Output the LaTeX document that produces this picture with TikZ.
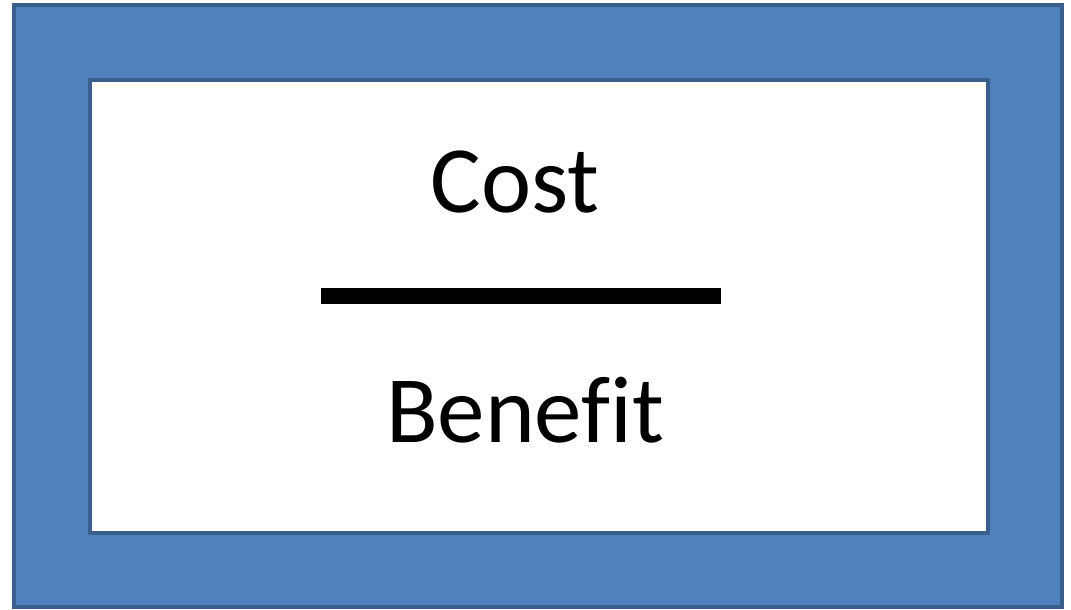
\documentclass[tikz,border=0pt]{standalone}
\usepackage{fontspec}
\setmainfont[Ligatures=NoCommon]{Carlito}
\definecolor{frameblue}{HTML}{4F81BD}
\definecolor{frameedge}{HTML}{3A5F8C}

\begin{document}
\begin{tikzpicture}[x=1pt, y=-1pt, bigtext/.style={font=\fontsize{95}{95}\selectfont, anchor=base, inner sep=0pt}]

		\useasboundingbox (0, 0) rectangle (1071, 610);

		\draw[line width=4pt, draw=frameedge, fill=frameblue] (14, 5) rectangle (1062, 607);
		\draw[line width=4pt, draw=frameedge, fill=white] (90, 80) rectangle (988, 533);

		\node[bigtext] (cost) at (515, 212) {Cost};

		\coordinate (barleft) at (321, 296);
		\coordinate (barright) at (721, 296);
		\draw[line width=16pt] (barleft) -- (barright);

		\node[bigtext] (benefit) at (525, 442) {Benefit};

	\end{tikzpicture}
\end{document}
